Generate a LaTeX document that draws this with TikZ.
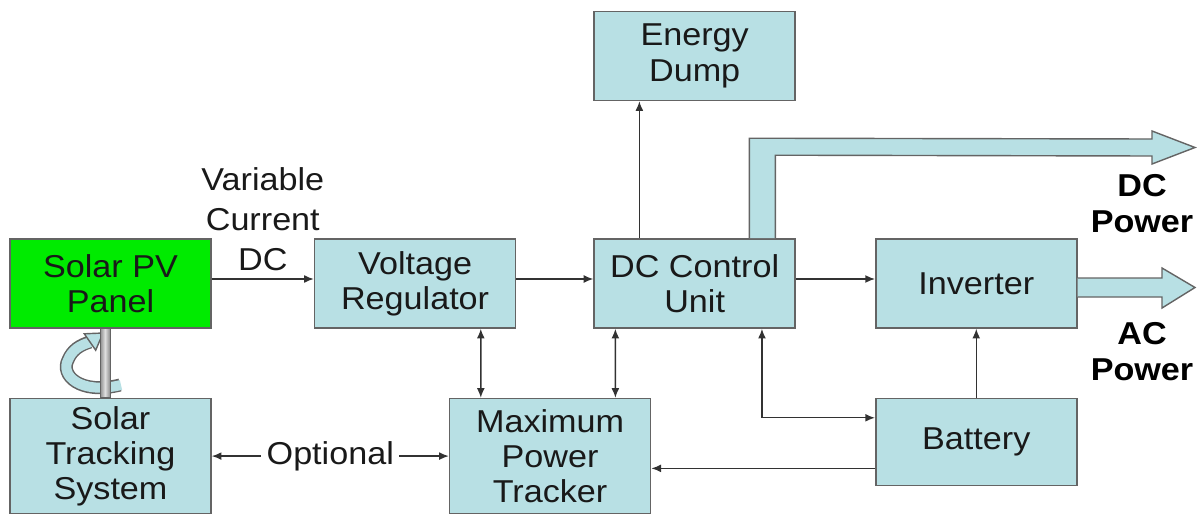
\documentclass[tikz,border=0pt]{standalone}
\usepackage{tikz}
\usetikzlibrary{arrows.meta, calc, positioning}
\usepackage{fontspec}
\setmainfont{Liberation Sans}[FakeStretch=1.08]
\definecolor{boxblue}{RGB}{184,224,228}
\definecolor{boxedge}{RGB}{100,100,100}
\definecolor{panelgreen}{RGB}{0,235,0}
\definecolor{linegray}{RGB}{50,50,50}
\definecolor{textgray}{RGB}{25,25,25}

\begin{document}
\begin{tikzpicture}[blk/.style={draw=boxedge, line width=0.9pt, fill=boxblue, minimum width=4.02cm, minimum height=1.78cm, inner sep=0pt, align=center, text=textgray, font=\fontsize{18}{20}\selectfont},
		link/.style={draw=linegray, line width=0.8pt, -{Latex[length=5.5pt,width=4.5pt]}},
		dlink/.style={draw=linegray, line width=0.8pt, {Latex[length=5.5pt,width=4.5pt]}-{Latex[length=5.5pt,width=4.5pt]}},
		fat/.style={draw=boxedge, line width=0.8pt, fill=boxblue, line join=miter},
		lbl/.style={align=center, text=textgray, font=\fontsize{18}{22.7}\selectfont},
		plbl/.style={align=center, text=black, font=\bfseries\fontsize{18}{20.4}\selectfont}]
				\useasboundingbox (0,0) rectangle (24.08,10.3);
				
				\node[blk, fill=panelgreen] (pvbox) at (2.21,4.63) {Solar PV\\Panel};
				\node[blk, right=2.04cm of pvbox] (vrbox) {Voltage\\Regulator};
				\node[blk, right=1.54cm of vrbox] (dcbox) {DC Control\\Unit};
				\node[blk, right=1.58cm of dcbox] (invbox) {Inverter};
				\node[blk, above=2.74cm of dcbox] (dumpbox) {Energy\\Dump};
				
				\node[blk, minimum height=2.3cm, below=1.38cm of pvbox] (stsbox) {Solar\\Tracking\\System};
				\node[blk, minimum height=2.3cm, right=4.74cm of stsbox] (mptbox) {Maximum\\Power\\Tracker};
				\node[blk, minimum height=1.74cm, below=1.38cm of invbox] (batbox) {Battery};
				
				% turning arrow and pole under the panel
				\draw[boxedge, line width=0.26cm] (2.4,2.6) .. controls (1.6,2.4) and (1.2,2.8) .. (1.36,3.1) .. controls (1.44,3.3) and (1.6,3.4) .. (1.8,3.46);
				\draw[boxblue, line width=0.2cm] (2.42,2.6) .. controls (1.6,2.4) and (1.2,2.8) .. (1.36,3.1) .. controls (1.44,3.3) and (1.6,3.4) .. (1.82,3.46);
				\draw[fat] (1.914,3.296) -- (2.06,3.64) -- (1.686,3.624) -- cycle;
				\shade[left color=gray!90, right color=gray!90, middle color=gray!25] ($(pvbox.south)+(-0.21,0)$) rectangle ($(stsbox.north)+(-0.01,0)$);
				\draw[boxedge, line width=0.5pt] ($(pvbox.south)+(-0.21,0)$) rectangle ($(stsbox.north)+(-0.01,0)$);
				
				% signal lines
				\draw[link] ([yshift=0.09cm]pvbox.east) -- node[lbl, above=1pt] (vclbl) {Variable\\Current\\DC} ([yshift=0.09cm]vrbox.west);
				\draw[link] ([yshift=0.09cm]vrbox.east) -- ([yshift=0.09cm]dcbox.west);
				\draw[link] ([yshift=0.09cm]dcbox.east) -- ([yshift=0.09cm]invbox.west);
				\draw[link] ($(dcbox.north west)+(0.92,0)$) -- ($(dumpbox.south west)+(0.92,0)$);
				
				\draw[dlink] ($(vrbox.south west)+(3.34,0)$) -- ($(mptbox.north west)+(0.64,0)$);
				\draw[dlink] ($(dcbox.south west)+(0.44,0)$) -- ($(mptbox.north east)-(0.72,0)$);
				\draw[dlink] ($(dcbox.south east)-(0.68,0)$) |- ($(batbox.north west)-(0,0.4)$);
				\draw[link] (batbox) -- (invbox);
				\draw[link] ($(batbox.south west)+(0,0.36)$) coordinate (batout) -- (batout -| mptbox.east);
				\draw[dlink] (stsbox) -- node[lbl, fill=white, inner sep=3pt] (optlbl) {Optional} (mptbox);
				
				% power outputs
				\draw[fat] ($(dcbox.north west)+(3.12,0)$) -- ++(0,2.0) -- (23.04,7.52) -- (23.04,7.68) -- (23.9,7.35) -- (23.04,7.02) -- (23.04,7.18) -- ($(dcbox.north west)+(3.64,1.66)$) -- ($(dcbox.north west)+(3.64,0)$);
				\draw[fat] ([yshift=0.11cm]invbox.east) -- (23.24,4.74) -- (23.24,4.94) -- (23.9,4.55) -- (23.24,4.14) -- (23.24,4.36) -- ([yshift=-0.27cm]invbox.east);
				
				\node[plbl] (dclbl) at (22.84,6.22) {DC\\Power};
				\node[plbl] (aclbl) at (22.84,3.27) {AC\\Power};
				
				\end{tikzpicture}
\end{document}
